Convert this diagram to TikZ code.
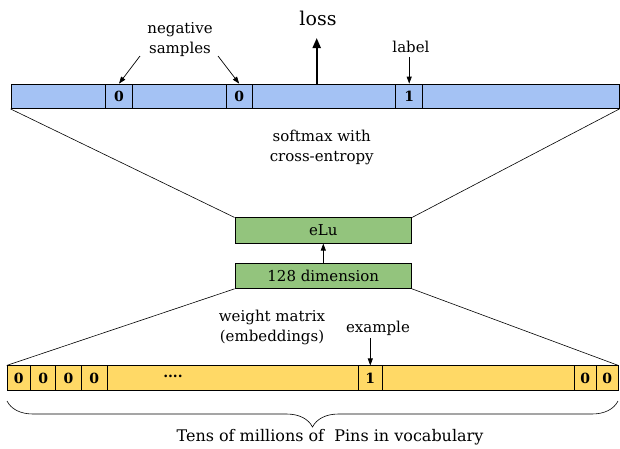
\documentclass[tikz,border=0pt]{standalone}
\usepackage{fontspec}
\setmainfont{DejaVu Serif}
\usetikzlibrary{arrows.meta,decorations.pathreplacing}
\definecolor{barblue}{HTML}{A4C2F4}
\definecolor{baryellow}{HTML}{FFD966}
\definecolor{boxgreen}{HTML}{93C47D}
\begin{document}
\begin{tikzpicture}[x=1pt,y=-1pt,
  lbl/.style={font=\fontsize{15}{20}\selectfont, align=center, inner sep=0pt},
  bluebar/.style={draw=black, fill=barblue, line width=0.8pt, minimum height=24.5pt, inner sep=0pt},
  yelbar/.style={draw=black, fill=baryellow, line width=0.8pt, minimum height=24.3pt, inner sep=0pt},
  cellt/.style={font=\fontsize{14}{16}\selectfont\bfseries},
  greenbox/.style={draw=black, fill=boxgreen, line width=0.8pt, minimum width=176.7pt, minimum height=25.3pt, inner sep=0pt, font=\fontsize{15}{18}\selectfont},
  thinline/.style={line width=0.6pt},
  arr/.style={-{Triangle[length=7pt,width=5pt]}, line width=0.7pt}
]
\useasboundingbox (0,0) rectangle (620,448);
% top bar
\node[bluebar, minimum width=608pt] (topbar) at (315,96.3) {};
\node[bluebar, minimum width=26.6pt, cellt] (neg1) at (119,96.3) {0};
\node[bluebar, minimum width=26.3pt, cellt] (neg2) at (239.2,96.3) {0};
\node[bluebar, minimum width=27pt, cellt] (lab) at (409.2,96.3) {1};
% loss
\coordinate (lossbase) at (316.7,84);
\coordinate (losstip) at (316.7,38);
\draw[-{Triangle[length=10pt,width=8pt]}, line width=2pt] (lossbase) -- (losstip);
\node[lbl, font=\fontsize{19}{22}\selectfont] (loss) at (318,18) {loss};
% negative samples
\node[lbl] (neg) at (180,40) {negative\\samples};
\coordinate (ns1) at (140,56);
\coordinate (ns2) at (218,56);
\draw[arr] (ns1) -- (neg1.north);
\draw[arr] (ns2) -- (neg2.north);
% label
\node[lbl] (labeltxt) at (411,47) {label};
\draw[arr] (409.2,57) -- (lab.north);
% softmax
\node[lbl] (softmax) at (321.7,147) {softmax with\\cross-entropy};
% green boxes
\node[greenbox] (elu) at (323.3,230.5) {eLu};
\node[greenbox] (dim) at (323.3,275.8) {128 dimension};
\draw[arr] (dim.north) -- (elu.south);
% bottom bar
\node[yelbar, minimum width=611pt] (bot) at (312.5,378) {};
\node[yelbar, minimum width=23.7pt, cellt] (b1) at (18.8,378) {0};
\node[yelbar, minimum width=25pt, cellt] (b2) at (43.2,378) {0};
\node[yelbar, minimum width=25.6pt, cellt] (b3) at (68.5,378) {0};
\node[yelbar, minimum width=26pt, cellt] (b4) at (94.3,378) {0};
\node[cellt] (dots) at (173,376) {....};
\node[yelbar, minimum width=24pt, cellt] (one) at (370.3,378) {1};
\node[yelbar, minimum width=22.7pt, cellt] (r1) at (585.3,378) {0};
\node[yelbar, minimum width=21.3pt, cellt] (r2) at (607.3,378) {0};
% trapezoid lines
\draw[thinline] (topbar.south west) -- (elu.north west);
\draw[thinline] (topbar.south east) -- (elu.north east);
\draw[thinline] (bot.north west) -- (dim.south west);
\draw[thinline] (bot.north east) -- (dim.south east);
% weight matrix
\node[lbl] (wm) at (272,327) {weight matrix\\(embeddings)};
\node[lbl] (ex) at (378,328) {example};
\draw[arr] (370.3,338) -- (one.north);
% brace
\coordinate (bl) at (7,401);
\coordinate (br) at (618,401);
\draw[thinline, decorate, decoration={brace, mirror, amplitude=26pt}] (bl) -- (br);
\node[lbl, font=\fontsize{16}{20}\selectfont] (tens) at (330,437) {Tens of millions of\ \ Pins in vocabulary};
\end{tikzpicture}
\end{document}
